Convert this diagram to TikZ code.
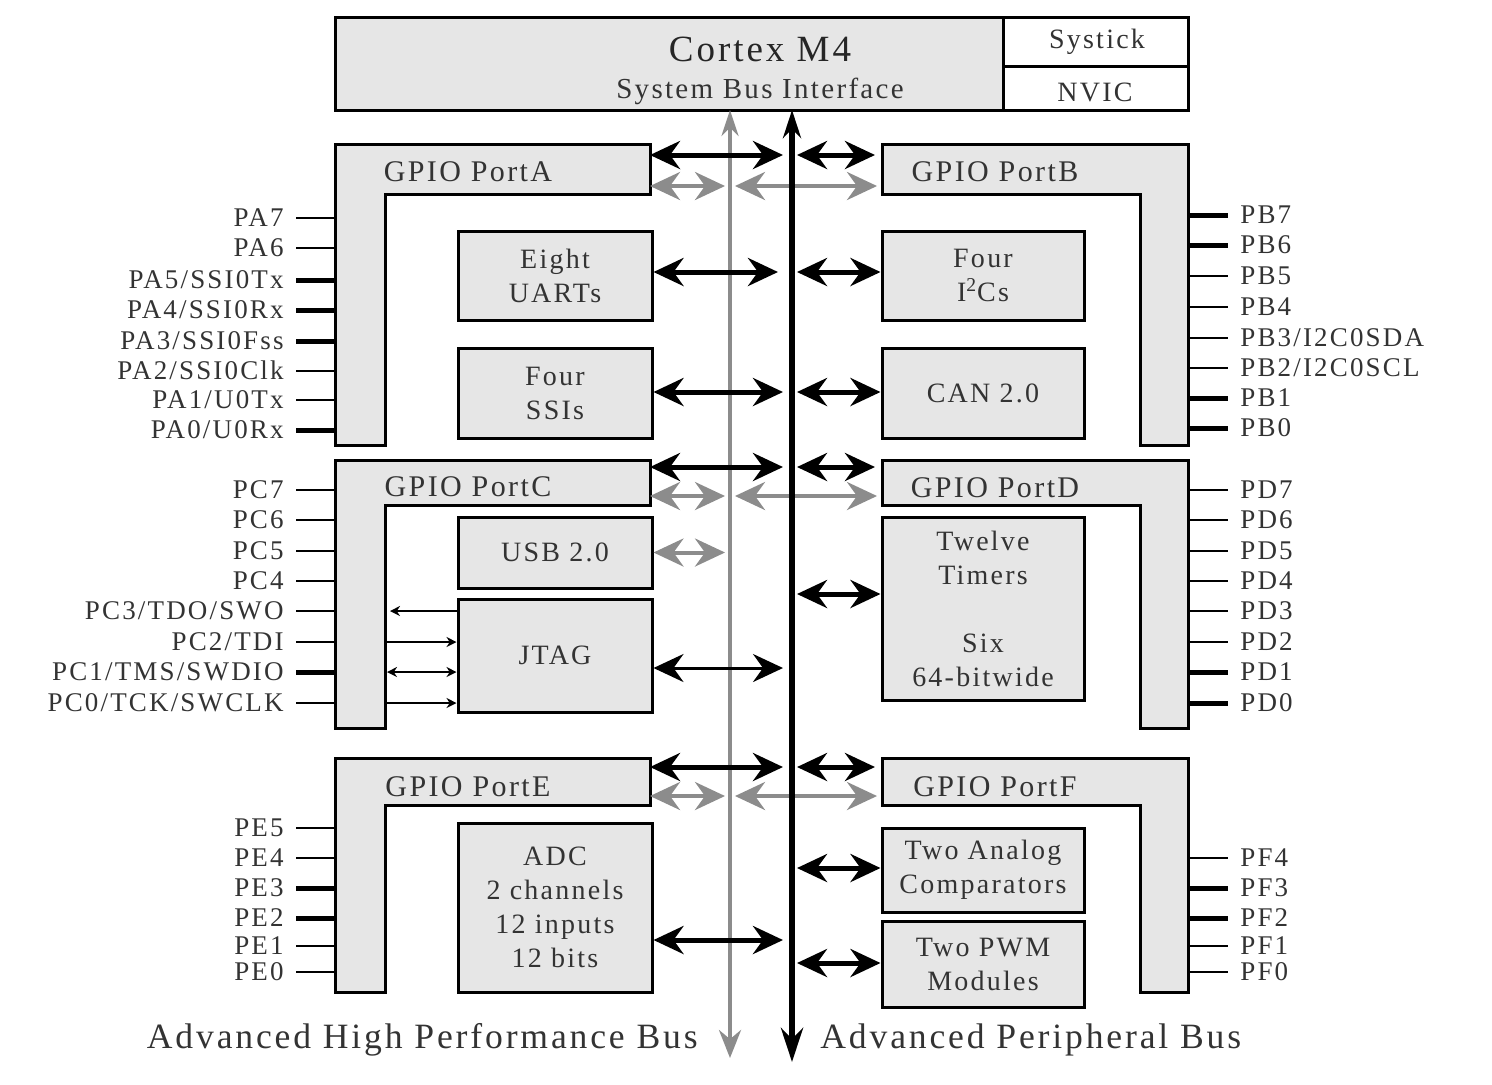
\documentclass[tikz,border=0pt]{standalone}
\usepackage{fontspec}
\setmainfont{Liberation Serif}[LetterSpace=8]
\usetikzlibrary{arrows.meta}
\definecolor{boxgray}{HTML}{E6E6E6}
\definecolor{txt}{HTML}{333333}
\definecolor{busgray}{HTML}{8C8C8C}
\begin{document}
\begin{tikzpicture}[x=0.5pt,y=-0.5pt,
  every node/.style={text=txt, font=\fontsize{14}{17}\selectfont, inner sep=0pt},
  blk/.style={draw, line width=1.5pt, fill=boxgray, align=center},
  port/.style={draw, line width=1.5pt, fill=boxgray},
  ptitle/.style={font=\fontsize{15}{18}\selectfont},
  pinthin/.style={line width=1pt},
  pinthick/.style={line width=2.5pt},
  bigtip/.tip={Stealth[length=15pt,width=14pt,inset=5pt]},
  barrow/.style={line width=2.5pt, bigtip-bigtip},
  jarrow/.style={line width=1.5pt, bigtip-bigtip},
  garrow/.style={line width=2pt, draw=busgray, bigtip-bigtip},
  smalltip/.tip={Stealth[length=5pt,width=5pt]},
  parrow/.style={line width=1pt},
  pinL/.style={anchor=mid east, yshift=-2pt, font=\fontsize{13.5}{16}\selectfont},
  pinR/.style={anchor=mid west, yshift=-2pt, font=\fontsize{13.5}{16}\selectfont},
]
\useasboundingbox (0,0) rectangle (1492,1084);

% ---------- Cortex M4 ----------
\draw[port] (335,17) rectangle (1188,110);
\draw[line width=1.5pt, fill=white] (1003,17) rectangle (1188,110);
\draw[line width=1.5pt] (1003,66) -- (1188,66);
\node[font=\fontsize{18.5}{22}\selectfont, text=black!85] (cortex) at (760,49) {Cortex M4};
\node[font=\fontsize{14.5}{17}\selectfont] (sbi) at (760,91) {System Bus Interface};
\node (systick) at (1097,42) {Systick};
\node (nvic) at (1095,92) {NVIC};

% ---------- GPIO ports (L shapes) ----------
\draw[port] (335,144) -- (650,144) -- (650,194) -- (385,194) -- (385,445) -- (335,445) -- cycle;
\draw[port] (882,144) -- (1188,144) -- (1188,445) -- (1140,445) -- (1140,194) -- (882,194) -- cycle;
\draw[port] (335,460) -- (650,460) -- (650,505) -- (385,505) -- (385,728) -- (335,728) -- cycle;
\draw[port] (882,460) -- (1188,460) -- (1188,728) -- (1140,728) -- (1140,505) -- (882,505) -- cycle;
\draw[port] (335,758) -- (650,758) -- (650,805) -- (385,805) -- (385,992) -- (335,992) -- cycle;
\draw[port] (882,758) -- (1188,758) -- (1188,992) -- (1140,992) -- (1140,805) -- (882,805) -- cycle;

\node[ptitle] (pA) at (468,172) {GPIO PortA};
\node[ptitle] (pB) at (995,172) {GPIO PortB};
\node[ptitle] (pC) at (468,487) {GPIO PortC};
\node[ptitle] (pD) at (995,488) {GPIO PortD};
\node[ptitle] (pE) at (468,787) {GPIO PortE};
\node[ptitle] (pF) at (995,787) {GPIO PortF};

% ---------- peripheral blocks ----------
\node[blk, minimum width=97pt, minimum height=44.5pt] (uart) at (555,275.5) {Eight\\UARTs};
\node[blk, minimum width=97pt, minimum height=45pt] (ssi) at (555,393) {Four\\SSIs};
\node[blk, minimum width=101pt, minimum height=44.5pt] (i2c) at (983,275.5) {Four\\I\textsuperscript{2}Cs};
\node[blk, minimum width=101pt, minimum height=45pt] (can) at (983,393) {CAN 2.0};
\node[blk, minimum width=97pt, minimum height=35.5pt] (usb) at (555,552.5) {USB 2.0};
\node[blk, minimum width=97pt, minimum height=56.5pt] (jtag) at (555,655.5) {JTAG};
\node[blk, minimum width=101pt, minimum height=91.5pt] (tim) at (983,608.5) {Twelve\\Timers\\[17pt]Six\\64-bitwide};
\node[blk, minimum width=97pt, minimum height=84.5pt] (adc) at (555,907.5) {ADC\\2 channels\\12 inputs\\12 bits};
\node[blk, minimum width=101pt, minimum height=42pt] (comp) at (983,870) {Two Analog\\Comparators};
\node[blk, minimum width=101pt, minimum height=43pt] (pwm) at (983,964) {Two PWM\\Modules};

% ---------- buses ----------
\coordinate (ahbT) at (730,110); \coordinate (ahbB) at (730,1058);
\coordinate (apbT) at (792,110); \coordinate (apbB) at (792,1062);
\draw[line width=2pt, draw=busgray, {Stealth[length=13pt,width=8.5pt]}-{Stealth[length=14pt,width=11pt]}] (ahbT) -- (ahbB);

% black horizontal arrows, left side
\draw[barrow] (650,155) -- (783,155);
\draw[barrow] (uart.east |- 0,272) -- (778,272);
\draw[barrow] (ssi.east |- 0,392) -- (783,392);
\draw[barrow] (650,467) -- (783,467);
\draw[jarrow] (jtag.east |- 0,668) -- (783,668);
\draw[barrow] (650,767) -- (783,767);
\draw[barrow] (adc.east |- 0,940) -- (783,940);
% black horizontal arrows, right side
\draw[barrow] (797,155) -- (875,155);
\draw[barrow] (797,272) -- (i2c.west |- 0,272);
\draw[barrow] (797,392) -- (can.west |- 0,392);
\draw[barrow] (797,467) -- (875,467);
\draw[barrow] (797,594) -- (tim.west |- 0,594);
\draw[barrow] (797,767) -- (875,767);
\draw[barrow] (797,868) -- (comp.west |- 0,868);
\draw[barrow] (797,963) -- (pwm.west |- 0,963);
% gray horizontal arrows
\draw[garrow] (650,186) -- (725,186);
\draw[garrow] (735,186) -- (877,186);
\draw[garrow] (650,496) -- (725,496);
\draw[garrow] (735,496) -- (877,496);
\draw[garrow] (usb.east) -- (725,552.5);
\draw[garrow] (650,796) -- (725,796);
\draw[garrow] (735,796) -- (877,796);

\draw[line width=3pt, {Stealth[length=14pt,width=9pt]}-{Stealth[length=17pt,width=11pt]}] (apbT) -- (apbB);

% ---------- pins ----------
\foreach \y/\t/\s in {218/PA7/pinthin, 248/PA6/pinthin, 280/{PA5/SSI0Tx}/pinthick, 310/{PA4/SSI0Rx}/pinthick,
  341/{PA3/SSI0Fss}/pinthick, 371/{PA2/SSI0Clk}/pinthin, 400/{PA1/U0Tx}/pinthin, 430/{PA0/U0Rx}/pinthick}
  {\draw[\s] (296,\y) -- (335,\y); \node[pinL] at (284,\y) {\t};}
\foreach \y/\t/\s in {215/PB7/pinthick, 245/PB6/pinthick, 276/PB5/pinthin, 307/PB4/pinthin,
  338/{PB3/I2C0SDA}/pinthin, 368/{PB2/I2C0SCL}/pinthin, 398/PB1/pinthick, 428/PB0/pinthick}
  {\draw[\s] (1188,\y) -- (1228,\y); \node[pinR] at (1240,\y) {\t};}
\foreach \y/\t/\s in {490/PC7/pinthin, 520/PC6/pinthin, 551/PC5/pinthin, 581/PC4/pinthin,
  611/{PC3/TDO/SWO}/pinthin, 642/{PC2/TDI}/pinthin, 672/{PC1/TMS/SWDIO}/pinthick, 703/{PC0/TCK/SWCLK}/pinthin}
  {\draw[\s] (296,\y) -- (335,\y); \node[pinL] at (284,\y) {\t};}
\foreach \y/\t/\s in {490/PD7/pinthin, 520/PD6/pinthin, 551/PD5/pinthin, 581/PD4/pinthin,
  611/PD3/pinthin, 642/PD2/pinthin, 672/PD1/pinthick, 703/PD0/pinthick}
  {\draw[\s] (1188,\y) -- (1228,\y); \node[pinR] at (1240,\y) {\t};}
\foreach \y/\t/\s in {828/PE5/pinthin, 858/PE4/pinthin, 888/PE3/pinthick, 918/PE2/pinthick,
  946/PE1/pinthin, 972/PE0/pinthin}
  {\draw[\s] (296,\y) -- (335,\y); \node[pinL] at (284,\y) {\t};}
\foreach \y/\t/\s in {858/PF4/pinthin, 888/PF3/pinthick, 918/PF2/pinthick, 946/PF1/pinthin, 972/PF0/pinthin}
  {\draw[\s] (1188,\y) -- (1228,\y); \node[pinR] at (1240,\y) {\t};}

% JTAG pin arrows inside Port C
\draw[parrow, -smalltip] (jtag.west |- 0,611) -- (390,611);
\draw[parrow, -smalltip] (385,642) -- (jtag.west |- 0,642);
\draw[parrow, smalltip-smalltip] (387,672) -- (jtag.west |- 0,672);
\draw[parrow, -smalltip] (385,703) -- (jtag.west |- 0,703);

% ---------- bus labels ----------
\node[anchor=mid east, yshift=-3pt, font=\fontsize{17.8}{20}\selectfont] (ahbL) at (698,1038) {Advanced High Performance Bus};
\node[anchor=mid west, yshift=-3pt, font=\fontsize{17.8}{20}\selectfont] (apbL) at (820,1038) {Advanced Peripheral Bus};
\end{tikzpicture}
\end{document}
